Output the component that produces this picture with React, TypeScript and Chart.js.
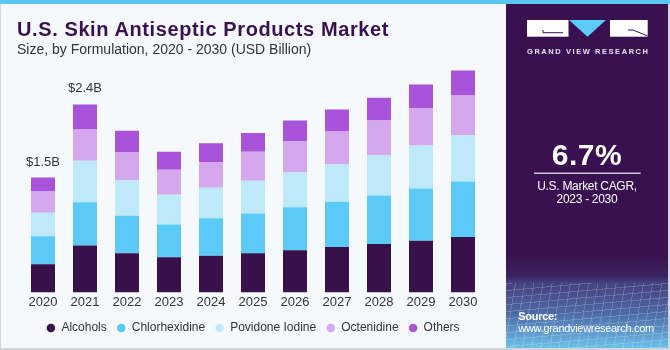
import React, { useEffect, useRef } from "react";
import { Chart, registerables } from "chart.js";

Chart.register(...registerables);

const years = ["2020", "2021", "2022", "2023", "2024", "2025", "2026", "2027", "2028", "2029", "2030"];
const alcohols = [0.36, 0.60, 0.50, 0.45, 0.47, 0.50, 0.54, 0.58, 0.62, 0.66, 0.71];
const chlorhexidine = [0.36, 0.555, 0.48, 0.42, 0.48, 0.51, 0.55, 0.58, 0.62, 0.67, 0.71];
const povidoneIodine = [0.30, 0.53, 0.46, 0.38, 0.39, 0.42, 0.45, 0.48, 0.52, 0.55, 0.59];
const octenidine = [0.27, 0.40, 0.35, 0.32, 0.33, 0.37, 0.39, 0.42, 0.44, 0.48, 0.51];
const others = [0.18, 0.32, 0.28, 0.23, 0.24, 0.24, 0.27, 0.28, 0.29, 0.30, 0.32];
const totalLabels = ["$1.5B", "$2.4B", "", "", "", "", "", "", "", "", ""];

const FONT = '"Liberation Sans", Arial, sans-serif';
const PURPLE = "#3A1150";

const seriesList = [
  { label: "Alcohols", data: alcohols, color: "#38104A" },
  { label: "Chlorhexidine", data: chlorhexidine, color: "#5CCAF6" },
  { label: "Povidone Iodine", data: povidoneIodine, color: "#BDE9F9" },
  { label: "Octenidine", data: octenidine, color: "#D5A8ED" },
  { label: "Others", data: others, color: "#A853D9" },
];

const totalsPlugin = {
  id: "totals",
  afterDatasetsDraw(chart: any) {
    const { ctx, scales } = chart;
    const x = scales.x;
    const y = scales.y;
    ctx.save();
    ctx.font = `13px ${FONT}`;
    ctx.fillStyle = "#333333";
    ctx.textAlign = "center";
    ctx.textBaseline = "alphabetic";
    totalLabels.forEach((lab, i) => {
      if (!lab) return;
      const total = seriesList.reduce((s, d) => s + d.data[i], 0);
      ctx.fillText(lab, x.getPixelForValue(i), y.getPixelForValue(total) - 12);
    });
    ctx.restore();
  },
};

export default function App() {
  const ref = useRef<HTMLCanvasElement>(null);
  useEffect(() => {
    document.body.style.margin = "0";
    Chart.defaults.font.family = FONT;
    const chart = new Chart(ref.current!, {
      type: "bar",
      data: {
        labels: years,
        datasets: seriesList.map((s) => ({
          label: s.label,
          data: s.data,
          backgroundColor: s.color,
          borderWidth: 0,
          categoryPercentage: 1,
          barPercentage: 0.571,
        })),
      },
      options: {
        animation: false,
        responsive: false,
        layout: { padding: { left: 22, right: 22, top: 58, bottom: 4 } },
        scales: {
          x: {
            stacked: true,
            grid: { display: false, drawTicks: false },
            border: { display: false },
            ticks: { color: "#333333", font: { size: 13, family: FONT }, padding: 2 },
          },
          y: {
            stacked: true,
            display: false,
            min: 0,
            max: 3,
          },
        },
        plugins: {
          legend: {
            position: "bottom",
            labels: {
              usePointStyle: true,
              pointStyle: "circle",
              boxWidth: 9,
              boxHeight: 6,
              padding: 10,
              color: "#333333",
              font: { size: 12, family: FONT },
            },
          },
          tooltip: { enabled: false },
        },
      },
      plugins: [totalsPlugin],
    });
    return () => chart.destroy();
  }, []);

  return (
    <div
      style={{
        position: "absolute",
        left: 0,
        top: 0,
        width: 670,
        height: 350,
        background: "#F5F9FC",
        overflow: "hidden",
        fontFamily: FONT,
      }}
    >
      <canvas ref={ref} width={506} height={348} style={{ position: "absolute", left: 0, top: 0, width: 506, height: 348 }} />
      <div style={{ position: "absolute", left: 17, top: 19, fontSize: 20, lineHeight: "20px", fontWeight: 700, color: PURPLE, letterSpacing: 0.6, whiteSpace: "nowrap" }}>
        U.S. Skin Antiseptic Products Market
      </div>
      <div style={{ position: "absolute", left: 17, top: 41.6, fontSize: 14, lineHeight: "14px", color: "#333333", whiteSpace: "nowrap" }}>
        Size, by Formulation, 2020 - 2030 (USD Billion)
      </div>

      <div
        style={{
          position: "absolute",
          left: 506,
          top: 4,
          width: 162,
          height: 344,
          background:
            "linear-gradient(to bottom, #3A1150 0%, #3A1150 73%, #3b2360 79%, #46407e 81%, #4d6aa6 90%, #6cc0ec 100%)",
        }}
      />
      <div
        style={{
          position: "absolute",
          left: 506,
          top: 283,
          width: 162,
          height: 65,
          opacity: 0.35,
          background:
            "repeating-linear-gradient(100deg, rgba(255,255,255,0.5) 0px, rgba(255,255,255,0.5) 1px, transparent 1px, transparent 9px), repeating-linear-gradient(175deg, rgba(255,255,255,0.5) 0px, rgba(255,255,255,0.5) 1px, transparent 1px, transparent 7px)",
        }}
      />
      <svg width={670} height={350} style={{ position: "absolute", left: 0, top: 0 }}>
        <rect x={527} y={20} width={41.5} height={16.7} fill="#FFFFFF" />
        <polyline points="543,30 543,32.7 563,32.7" fill="none" stroke={PURPLE} strokeWidth={1} />
        <polygon points="569,20 606,20 587.5,36.7" fill="#5CCAF6" />
        <rect x={610} y={20} width={37.7} height={16.7} fill="#FFFFFF" />
        <polyline points="628,30 633,30 647.7,36" fill="none" stroke={PURPLE} strokeWidth={1} />
        <text x={527} y={53.5} fontFamily={FONT} fontWeight={700} fontSize={7.5} fill="#E8E4EE" textLength={121} lengthAdjust="spacing">
          GRAND VIEW RESEARCH
        </text>
        <line x1={534} y1={173.3} x2={640.7} y2={173.3} stroke="#CBC3D6" strokeWidth={1.5} />
      </svg>
      <div style={{ position: "absolute", left: 506, width: 162, top: 139.6, textAlign: "center", fontSize: 30, lineHeight: "30px", fontWeight: 700, color: "#FFFFFF", letterSpacing: 0.5 }}>
        6.7%
      </div>
      <div style={{ position: "absolute", left: 506, width: 162, top: 179.8, textAlign: "center", fontSize: 12, lineHeight: "12px", color: "#FFFFFF", letterSpacing: -0.3 }}>
        U.S. Market CAGR,
      </div>
      <div style={{ position: "absolute", left: 506, width: 162, top: 193.1, textAlign: "center", fontSize: 12, lineHeight: "12px", color: "#FFFFFF", letterSpacing: -0.3 }}>
        2023 - 2030
      </div>
      <div style={{ position: "absolute", left: 518.3, top: 310.7, fontSize: 11, lineHeight: "11px", fontWeight: 700, color: "#FFFFFF", letterSpacing: -0.3 }}>
        Source:
      </div>
      <div style={{ position: "absolute", left: 518.3, top: 323.1, fontSize: 11, lineHeight: "11px", color: "#FFFFFF", letterSpacing: -0.3, whiteSpace: "nowrap" }}>
        www.grandviewresearch.com
      </div>

      <div style={{ position: "absolute", left: 0, top: 0, width: 670, height: 4, background: "#5CC6F2" }} />
      <div style={{ position: "absolute", left: 0, top: 4, width: 1, height: 346, background: "#D3D6D9" }} />
      <div style={{ position: "absolute", left: 0, top: 348, width: 670, height: 2, background: "#D3D6D9" }} />
      <div style={{ position: "absolute", left: 668, top: 4, width: 2, height: 346, background: "#D3D6D9" }} />
    </div>
  );
}
